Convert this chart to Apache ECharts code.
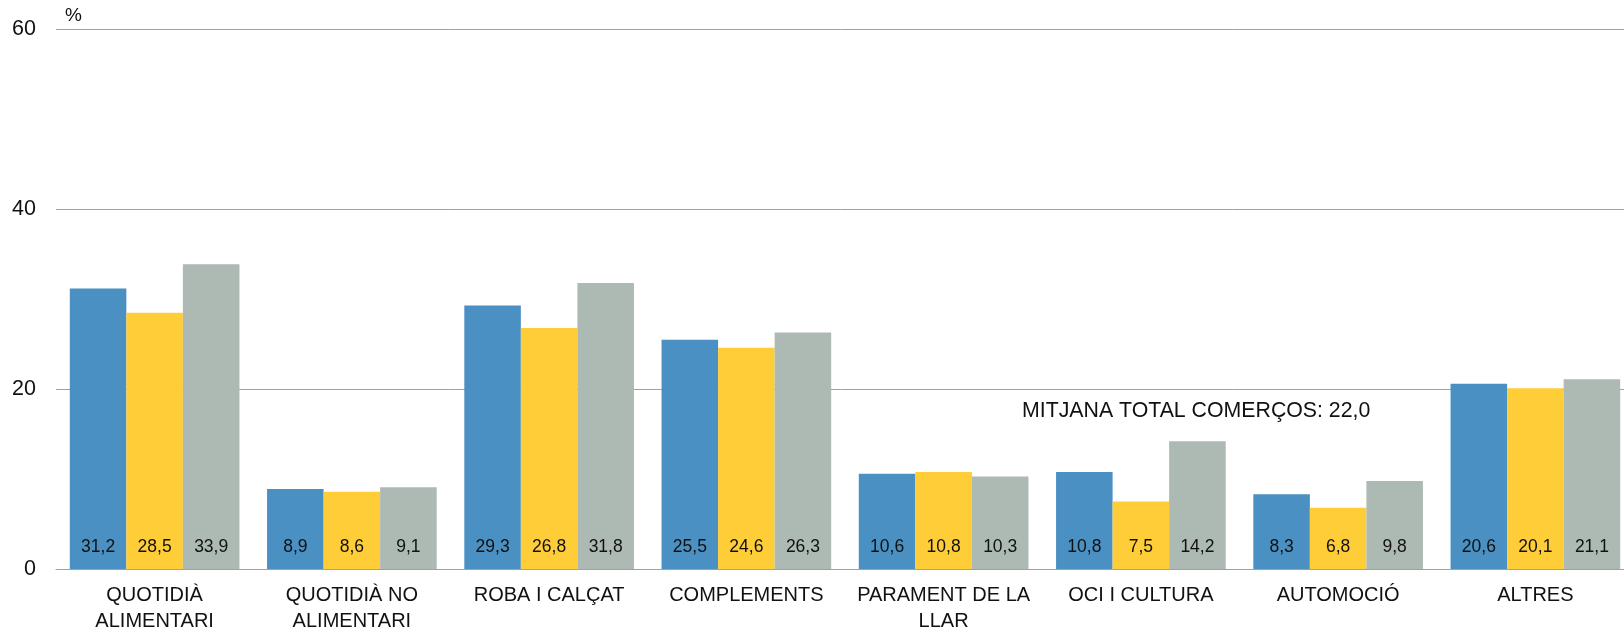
<!DOCTYPE html>
<html>
<head>
<meta charset="utf-8">
<script src="https://cdn.jsdelivr.net/npm/echarts@6/dist/echarts.min.js"></script>
<style>
html, body { margin: 0; padding: 0; background: #fff; }
#chart { width: 1624px; height: 629px; }
</style>
</head>
<body>
<div id="chart"></div>
<script>
var categories = ['QUOTIDIÀ\nALIMENTARI', 'QUOTIDIÀ NO\nALIMENTARI', 'ROBA I CALÇAT', 'COMPLEMENTS',
    'PARAMENT DE LA\nLLAR', 'OCI I CULTURA', 'AUTOMOCIÓ', 'ALTRES'];
var serieA = [31.2, 8.9, 29.3, 25.5, 10.6, 10.8, 8.3, 20.6];
var serieB = [28.5, 8.6, 26.8, 24.6, 10.8, 7.5, 6.8, 20.1];
var serieC = [33.9, 9.1, 31.8, 26.3, 10.3, 14.2, 9.8, 21.1];
var colors = ['#4a90c3', '#ffcd38', '#adb9b3'];
var mitjanaText = 'MITJANA TOTAL COMERÇOS: 22,0';

var myChart = echarts.init(document.getElementById('chart'));

var labelStyle = {
    show: true,
    position: 'insideBottom',
    distance: 13,
    color: '#111',
    fontSize: 17.5,
    fontFamily: 'Liberation Sans, Arial, sans-serif',
    formatter: function (p) { return p.value.toFixed(1).replace('.', ','); }
};

function makeSeries(name, data, color) {
    return {
        name: name,
        type: 'bar',
        data: data,
        barGap: '0%',
        barCategoryGap: '14%',
        itemStyle: { color: color },
        label: labelStyle
    };
}

var option = {
    animation: false,
    textStyle: { fontFamily: 'Liberation Sans, Arial, sans-serif' },
    // plot runs a bit past the right edge, like the original
    grid: { left: 56, width: 1578, top: 29.5, bottom: 60, containLabel: false, outerBoundsMode: 'none' },
    xAxis: {
        type: 'category',
        data: categories,
        axisLine: { lineStyle: { color: '#a09db5', width: 1 } },
        axisTick: { show: false },
        axisLabel: { color: '#111', fontSize: 20, lineHeight: 26, margin: 13, interval: 0 }
    },
    yAxis: {
        type: 'value',
        min: 0,
        max: 60,
        interval: 20,
        name: '%',
        nameLocation: 'end',
        nameGap: 4,
        nameTextStyle: { color: '#111', fontSize: 19, align: 'left', padding: [0, 0, 0, 9] },
        axisLine: { show: false },
        axisTick: { show: false },
        axisLabel: { color: '#111', fontSize: 21.5, margin: 20 },
        splitLine: { lineStyle: { color: '#a09db5', width: 1 } }
    },
    graphic: [{
        type: 'text',
        left: 1022,
        top: 401,
        style: { text: mitjanaText, fill: '#111', fontSize: 21.3, fontFamily: 'Liberation Sans, Arial, sans-serif' }
    }],
    series: [
        makeSeries('Sèrie 1', serieA, colors[0]),
        makeSeries('Sèrie 2', serieB, colors[1]),
        makeSeries('Sèrie 3', serieC, colors[2])
    ]
};

myChart.setOption(option);
</script>
</body>
</html>
